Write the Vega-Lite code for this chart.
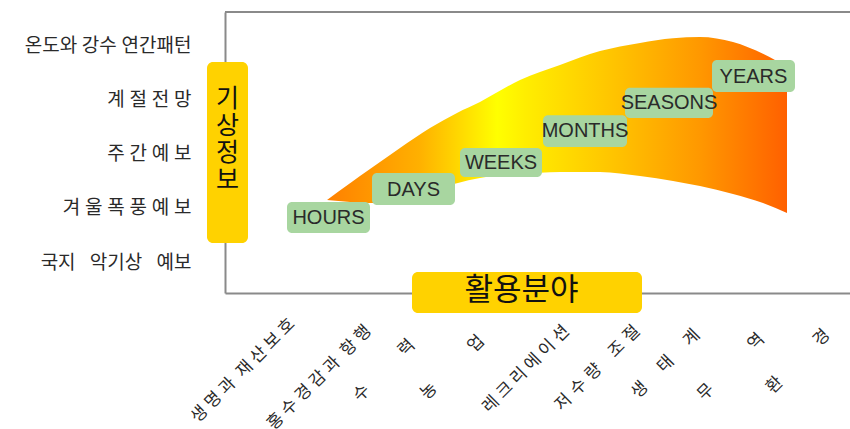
{
  "$schema": "https://vega.github.io/schema/vega-lite/v6.json",
  "width": 625,
  "height": 281,
  "autosize": {"type": "none"},
  "padding": {"left": 225, "top": 12, "right": 0, "bottom": 136},
  "background": "white",
  "datasets": {
    "band": [
      {"x": 16.32, "upper": 33.1, "lower": 33.1},
      {"x": 20.0, "upper": 39.1, "lower": 32.4},
      {"x": 23.2, "upper": 44.1, "lower": 32.0},
      {"x": 28.0, "upper": 51.6, "lower": 34.2},
      {"x": 32.8, "upper": 58.7, "lower": 36.7},
      {"x": 37.12, "upper": 64.1, "lower": 39.1},
      {"x": 40.8, "upper": 68.0, "lower": 40.9},
      {"x": 47.2, "upper": 75.8, "lower": 42.3},
      {"x": 53.6, "upper": 81.1, "lower": 43.1},
      {"x": 60.0, "upper": 86.1, "lower": 43.1},
      {"x": 66.4, "upper": 89.0, "lower": 41.6},
      {"x": 71.68, "upper": 90.7, "lower": 39.9},
      {"x": 76.0, "upper": 91.1, "lower": 38.1},
      {"x": 81.28, "upper": 89.3, "lower": 35.2},
      {"x": 86.08, "upper": 85.1, "lower": 32.0},
      {"x": 89.92, "upper": 80.4, "lower": 28.5}
    ],
    "steps": [
      {"label": "HOURS", "x1": 9.92, "x2": 23.2, "y1": 21.35, "y2": 32.38, "cx": 16.56, "cy": 26.6},
      {"label": "DAYS", "x1": 23.52, "x2": 36.8, "y1": 31.3, "y2": 42.7, "cx": 30.16, "cy": 36.8},
      {"label": "WEEKS", "x1": 37.6, "x2": 50.72, "y1": 41.3, "y2": 51.6, "cx": 44.16, "cy": 46.3},
      {"label": "MONTHS", "x1": 50.88, "x2": 64.32, "y1": 52.0, "y2": 63.3, "cx": 57.6, "cy": 57.5},
      {"label": "SEASONS", "x1": 64.0, "x2": 78.08, "y1": 62.3, "y2": 73.0, "cx": 71.04, "cy": 67.5},
      {"label": "YEARS", "x1": 77.92, "x2": 91.2, "y1": 71.5, "y2": 82.9, "cx": 84.56, "cy": 77.0}
    ],
    "titles": [
      {"axis": "y", "name": "기\n상\n정\n보", "x1": -2.88, "x2": 3.68, "y1": 17.8, "y2": 82.2, "cx": 0.4, "cy": 69.0},
      {"axis": "x", "name": "활용분야", "x1": 29.92, "x2": 66.72, "y1": -7.1, "y2": 7.47, "cx": 47.44, "cy": 0.7}
    ]
  },
  "layer": [
    {
      "data": {"values": [{}]},
      "mark": {"type": "rule", "color": "#8a8a8a", "strokeWidth": 2},
      "encoding": {
        "y": {"datum": 100, "type": "quantitative", "scale": {"domain": [0, 100], "nice": false, "zero": false}}
      }
    },
    {
      "data": {"name": "band"},
      "mark": {
        "type": "area",
        "interpolate": "monotone",
        "opacity": 1,
        "color": {
          "gradient": "linear",
          "x1": 0, "y1": 0, "x2": 1, "y2": 0,
          "stops": [
            {"offset": 0, "color": "#ff8000"},
            {"offset": 0.2, "color": "#ffb000"},
            {"offset": 0.37, "color": "#ffff00"},
            {"offset": 0.43, "color": "#ffee00"},
            {"offset": 0.64, "color": "#ffc000"},
            {"offset": 0.81, "color": "#ff9800"},
            {"offset": 1, "color": "#ff6000"}
          ]
        }
      },
      "encoding": {
        "x": {
          "field": "x",
          "type": "quantitative",
          "scale": {"domain": [0, 100], "nice": false, "zero": false},
          "axis": {
            "title": null,
            "values": [10.7, 22.9, 29.9, 41, 54.6, 65.9, 75.5, 85.8, 96.3],
            "labelExpr": "datum.value == 10.7 ? '생\u2005명\u2005과\u2002재\u2005산\u2005보\u2005호' : datum.value == 22.9 ? '홍\u2005수\u2005경\u2005감\u2005과\u2002항\u2005행' : datum.value == 29.9 ? '수\u3000\u3000\u2002\u2004력' : datum.value == 41 ? '농\u3000\u3000\u3000업' : datum.value == 54.6 ? '레\u2005크\u2005리\u2005에\u2005이\u2005션' : datum.value == 65.9 ? '저\u2004수\u2004량\u3000조\u2004절' : datum.value == 75.5 ? '생\u3000\u2005태\u3000\u2005계' : datum.value == 85.8 ? '무\u3000\u3000\u3000\u2005역' : '환\u3000\u3000\u3000경'",
            "labelAngle": -45,
            "labelAlign": "right",
            "labelBaseline": "middle",
            "labelFontSize": 17,
            "labelPadding": {
              "condition": [
                {"test": "datum.value == 29.9", "value": 49},
                {"test": "datum.value == 41", "value": 45},
                {"test": "datum.value == 85.8", "value": 43},
                {"test": "datum.value == 75.5", "value": 39},
                {"test": "datum.value == 96.3", "value": 39},
                {"test": "datum.value == 10.7", "value": 28}
              ],
              "value": 35
            }
          }
        },
        "y": {
          "field": "upper",
          "type": "quantitative",
          "scale": {"domain": [0, 100], "nice": false, "zero": false},
          "axis": {
            "title": null,
            "values": [11, 30.5, 49.7, 68.8, 88],
            "labelExpr": "datum.value == 88 ? '온도와\u2005강수\u2005연간패턴' : datum.value == 68.8 ? '계\u2005절\u2005전\u2005망' : datum.value == 49.7 ? '주\u2005간\u2005예\u2005보' : datum.value == 30.5 ? '겨\u2005울\u2005폭\u2005풍\u2005예\u2005보' : '국지\u2002\u2005악기상\u2002\u2005예보'",
            "labelAlign": "right",
            "labelBaseline": "middle",
            "labelFontSize": 19,
            "labelPadding": 34
          }
        },
        "y2": {"field": "lower"}
      }
    },
    {
      "data": {"name": "steps"},
      "mark": {"type": "rect", "color": "#a8d6a0", "cornerRadius": 5},
      "encoding": {
        "x": {"field": "x1", "type": "quantitative", "title": null, "scale": {"domain": [0, 100], "nice": false, "zero": false}},
        "x2": {"field": "x2"},
        "y": {"field": "y1", "type": "quantitative", "title": null, "scale": {"domain": [0, 100], "nice": false, "zero": false}},
        "y2": {"field": "y2"}
      }
    },
    {
      "data": {"name": "steps"},
      "mark": {"type": "text", "font": "Liberation Sans", "fontSize": 20, "color": "#2a2a2a", "align": "center", "baseline": "middle"},
      "encoding": {
        "x": {"field": "cx", "type": "quantitative", "title": null, "scale": {"domain": [0, 100], "nice": false, "zero": false}},
        "y": {"field": "cy", "type": "quantitative", "title": null, "scale": {"domain": [0, 100], "nice": false, "zero": false}},
        "text": {"field": "label"}
      }
    },
    {
      "data": {"name": "titles"},
      "mark": {"type": "rect", "color": "#ffd200", "cornerRadius": 6},
      "encoding": {
        "x": {"field": "x1", "type": "quantitative", "title": null, "scale": {"domain": [0, 100], "nice": false, "zero": false}},
        "x2": {"field": "x2"},
        "y": {"field": "y1", "type": "quantitative", "title": null, "scale": {"domain": [0, 100], "nice": false, "zero": false}},
        "y2": {"field": "y2"}
      }
    },
    {
      "data": {"name": "titles"},
      "transform": [{"filter": "datum.axis == 'x'"}],
      "mark": {"type": "text", "font": "Noto Sans CJK KR", "fontSize": 31, "color": "#111111", "align": "center", "baseline": "middle"},
      "encoding": {
        "x": {"field": "cx", "type": "quantitative", "title": null, "scale": {"domain": [0, 100], "nice": false, "zero": false}},
        "y": {"field": "cy", "type": "quantitative", "title": null, "scale": {"domain": [0, 100], "nice": false, "zero": false}},
        "text": {"field": "name"}
      }
    },
    {
      "data": {"name": "titles"},
      "transform": [{"filter": "datum.axis == 'y'"}],
      "mark": {"type": "text", "font": "Noto Sans CJK KR", "fontSize": 25, "lineHeight": 27, "lineBreak": "\n", "color": "#111111", "align": "center", "baseline": "middle"},
      "encoding": {
        "x": {"field": "cx", "type": "quantitative", "title": null, "scale": {"domain": [0, 100], "nice": false, "zero": false}},
        "y": {"field": "cy", "type": "quantitative", "title": null, "scale": {"domain": [0, 100], "nice": false, "zero": false}},
        "text": {"field": "name"}
      }
    }
  ],
  "config": {
    "view": {"stroke": null},
    "axis": {
      "grid": false,
      "ticks": false,
      "tickSize": 0,
      "domainColor": "#8a8a8a",
      "domainWidth": 2,
      "labelFont": "Noto Sans CJK KR",
      "labelColor": "#2a2a2a",
      "labelOverlap": false,
      "labelBound": false,
      "labelFlush": false,
      "labelLimit": 0
    }
  }
}
